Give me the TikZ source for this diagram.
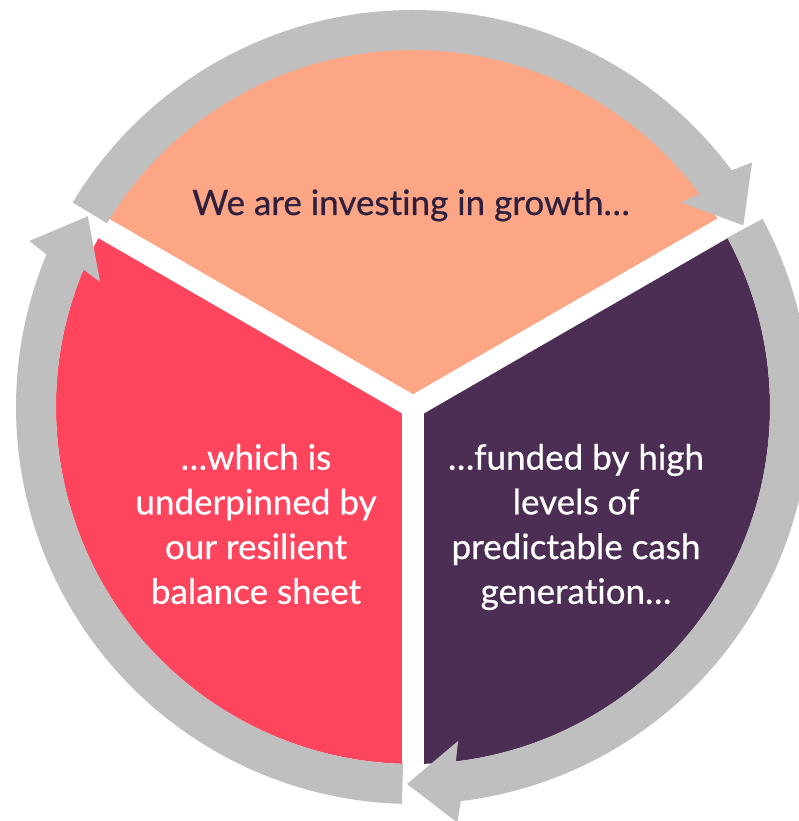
\documentclass[tikz,border=0pt]{standalone}
\usepackage{fontspec}
\setmainfont{Lato}[Ligatures=NoCommon]
\newfontfamily\labelfont{Lato}[FakeBold=0.6, Ligatures=NoCommon]

\definecolor{growthfill}{HTML}{FCA685}
\definecolor{balancefill}{HTML}{FF455E}
\definecolor{cashfill}{HTML}{4C2E54}
\definecolor{ringgray}{HTML}{BFBFBF}
\definecolor{darkink}{HTML}{2E1F3E}

% one curved arrow on the ring: #1 tail angle, #2 tip angle (clockwise)
\newcommand{\ringarrow}[2]{%
  \fill[ringgray] (#1:357) -- (#1:397) arc[start angle=#1, end angle=#2+7.8, radius=397]
    -- ({#2+7}:418) -- (#2:377) -- ({#2+8.6}:337) -- ({#2+7.8}:357)
    arc[start angle=#2+7.8, end angle=#1, radius=357] -- cycle;}

\begin{document}
\begin{tikzpicture}[x=1pt, y=1pt,
    label/.style={font=\labelfont\fontsize{35}{44.7}\selectfont, align=center}]
    \useasboundingbox (-413,-414) rectangle (386,407);
    \clip (-413,-414) rectangle (386,407);

    % Sectors
    \fill[growthfill] (0,0) -- (30:358) arc[start angle=30, end angle=150, radius=358] -- cycle;
    \fill[balancefill] (0,0) -- (150:357) arc[start angle=150, end angle=270, radius=357] -- cycle;
    \fill[cashfill] (0,0) -- (270:357) arc[start angle=270, end angle=390, radius=357] -- cycle;

    % White gaps between sectors
    \foreach \a in {30,150,270}
        \draw[white, line width=22pt, line cap=round] (0,0) -- (\a:365);

    % Ring of arrows
    \ringarrow{149}{28.8}
    \ringarrow{28.3}{-90.9}
    \ringarrow{-91.6}{-210.4}

    % Texts
    \node[label, text=darkink, anchor=base] (invest) at (-2,192) {We are investing in growth…};
    \node[label, text=white] (balance) at (-157,-117) {…which is\\underpinned by\\our resilient\\balance sheet};
    \node[label, text=white] (cash) at (163,-120) {…funded by high\\levels of\\predictable cash\\generation…};
\end{tikzpicture}
\end{document}
